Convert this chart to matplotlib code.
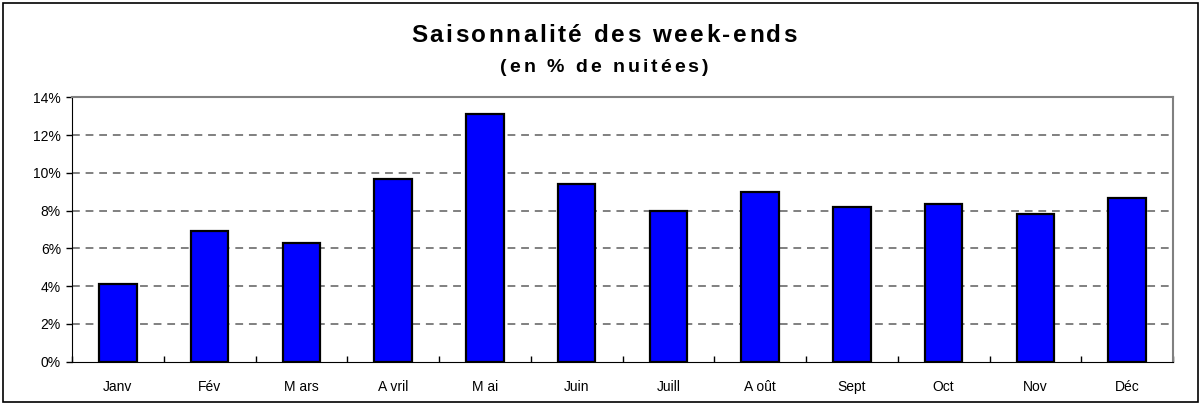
import numpy as np
import matplotlib.pyplot as plt
from matplotlib.patches import Rectangle
from matplotlib.ticker import FuncFormatter, FixedLocator
from matplotlib.font_manager import FontProperties

# Données
mois = ["Janv", "Fév", "M ars", "A vril", "M ai", "Juin", "Juill", "A oût", "Sept", "Oct", "Nov", "Déc"]
part_nuitees = [4.1, 6.9, 6.3, 9.7, 13.1, 9.4, 8.0, 9.0, 8.2, 8.35, 7.8, 8.65]
graduations = [0, 2, 4, 6, 8, 10, 12, 14]

plt.rcParams["font.family"] = ["Liberation Sans", "DejaVu Sans"]

W, H = 1201, 405
fig = plt.figure(figsize=(W / 100, H / 100), dpi=100)
ax = fig.add_axes([72 / W, 1 - 361.7 / H, (1173 - 72) / W, (361.7 - 97.3) / H])

x = np.arange(len(mois))
ax.bar(x, part_nuitees, width=0.41, color="#0000FF", edgecolor="black", linewidth=1.6, zorder=3)

ax.set_xlim(-0.5, len(mois) - 0.5)
ax.set_ylim(0, 14)
ax.set_yticks(graduations)
ax.yaxis.set_major_formatter(FuncFormatter(lambda v, p: f"{v:.0f}%"))
ax.tick_params(axis="y", direction="out", length=4, width=1, labelsize=10, pad=4)

# séparateurs de catégories sur l'axe des x
ax.set_xticks(x)
ax.set_xticklabels(mois, fontsize=10)
ax.tick_params(axis="x", which="major", length=0, pad=13)
ax.xaxis.set_minor_locator(FixedLocator(np.arange(-0.5, len(mois), 1.0)))
ax.tick_params(axis="x", which="minor", direction="in", length=4, width=1)

for v in graduations[1:-1]:
    ax.axhline(v, color="#808080", linestyle=(0, (4, 3)), linewidth=1.4, zorder=1)

ax.spines["top"].set_color("#808080")
ax.spines["right"].set_color("#808080")
ax.spines["top"].set_linewidth(1.5)
ax.spines["right"].set_linewidth(1.5)
ax.spines["left"].set_color("black")
ax.spines["bottom"].set_color("black")

# texte avec espacement des lettres (comme dans Excel)
renderer = fig.canvas.get_renderer()


def largeur(s, prop):
    w, _, _ = renderer.get_text_width_height_descent(s, prop, ismath=False)
    return w


def texte_espace(x0, x1, y_base, s, size):
    prop = FontProperties(family="Liberation Sans", weight="bold", size=size)
    ref = largeur("||", prop)
    avances = [largeur("|" + c + "|", prop) - ref for c in s]
    espace = ((x1 - x0) - sum(avances)) / (len(s) - 1)
    xp = x0
    for c, a in zip(s, avances):
        fig.text(xp / W, 1 - y_base / H, c, ha="left", va="baseline",
                 fontproperties=prop)
        xp += a + espace


texte_espace(411, 797, 41.7, "Saisonnalité des week-ends", 17.5)
texte_espace(500, 708, 71.7, "(en % de nuitées)", 14)

# cadre autour du graphique
fig.patches.append(Rectangle((3 / W, 3 / H), 1 - 6 / W, 1 - 6 / H,
                             transform=fig.transFigure, fill=False, edgecolor="black", linewidth=1.2))

fig.savefig("out.png", dpi=100)
